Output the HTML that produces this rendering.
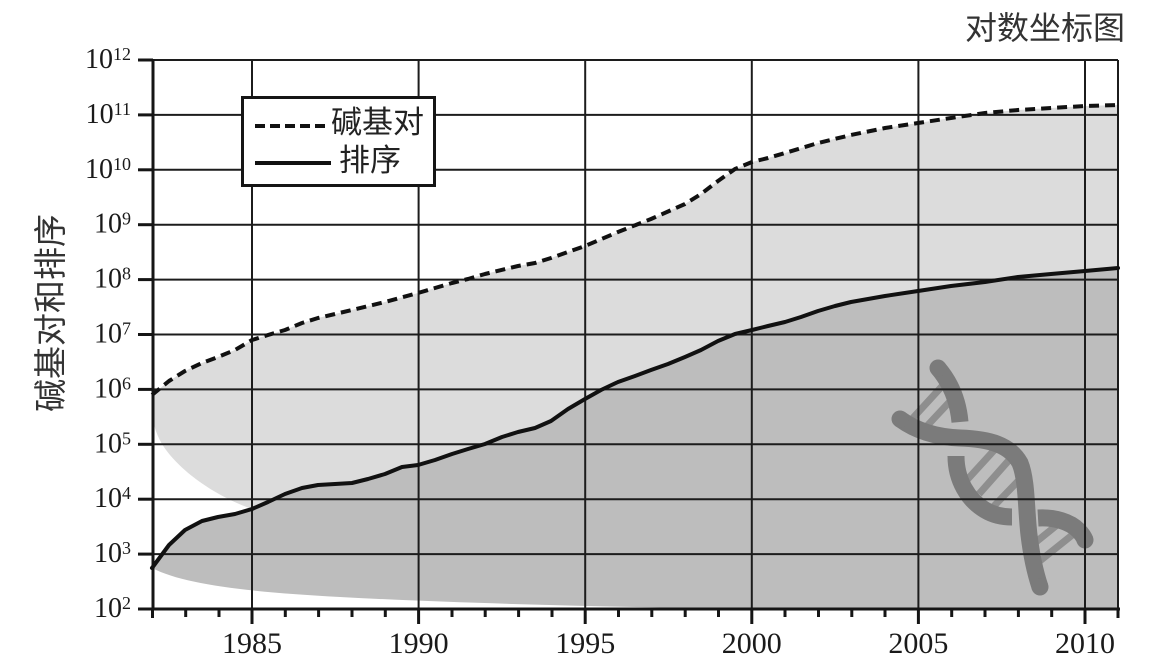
<!DOCTYPE html>
<html>
<head>
<meta charset="utf-8">
<style>
html,body{margin:0;padding:0;background:#fff;}
svg{display:block;}
</style>
</head>
<body>
<svg width="1156" height="664" viewBox="0 0 1156 664" xmlns="http://www.w3.org/2000/svg">
<rect x="0" y="0" width="1156" height="664" fill="#ffffff"/>

<!-- light region -->
<path fill="#dcdcdc" d="M152,395 L169,381 L185,371 L202,363 L218,357 L235,350 L252,340 L268,335 L285,330 L302,323 L318,318 L352,310 L385,302 L418,293 L435,288 L452,283 L468,279 L485,274 L518,266 L535,263 L551,258 L585,246 L618,232 L651,219 L685,204 L701,194 L718,181 L735,169 L752,162 L768,158 L785,153 L818,143 L851,135 L885,128 L918,123 L951,118 L985,113 L1018,110 L1051,108 L1085,106 L1118,105 L1118,268 L1085,271 L1051,274 L1018,277 L985,282 L951,286 L918,291 L885,296 L851,302 L835,306 L818,311 L801,317 L785,322 L768,326 L752,330 L735,334 L718,341 L701,350 L685,357 L668,364 L651,370 L635,376 L618,382 L601,390 L585,399 L568,409 L551,421 L535,428 L518,432 L502,437 L485,444 L468,449 L452,454 L435,460 L418,465 L402,467 L385,474 L368,479 L352,483 L335,484 L318,485 L302,488 L285,494 L268,502 L252,509 C215,496 178,470 162,444 C155,432 152,420 152,408 Z"/>

<!-- dark region -->
<path fill="#bdbdbd" d="M152,568 L169,545 L185,530 L202,521 L218,517 L235,514 L252,509 L268,502 L285,494 L302,488 L318,485 L335,484 L352,483 L368,479 L385,474 L402,467 L418,465 L435,460 L452,454 L468,449 L485,444 L502,437 L518,432 L535,428 L551,421 L568,409 L585,399 L601,390 L618,382 L635,376 L651,370 L668,364 L685,357 L701,350 L718,341 L735,334 L752,330 L768,326 L785,322 L801,317 L818,311 L835,306 L851,302 L885,296 L918,291 L951,286 L985,282 L1018,277 L1051,274 L1085,271 L1118,268 L1118,609 L752,609 C620,607 470,604 340,597 C250,592 185,585 152,568 Z"/>

<!-- DNA -->
<g fill="none" stroke-linecap="butt">
  <g stroke="#8e8e8e" stroke-width="7">
    <line x1="912" y1="419" x2="945" y2="383"/>
    <line x1="926" y1="427" x2="955" y2="396"/>
    <line x1="966" y1="481" x2="998" y2="446"/>
    <line x1="979" y1="494" x2="1010" y2="459"/>
    <line x1="994" y1="506" x2="1021" y2="478"/>
    <line x1="1031" y1="546" x2="1062" y2="521"/>
    <line x1="1036" y1="564" x2="1076" y2="532"/>
  </g>
  <g stroke="#7b7b7b" stroke-width="17">
    <path d="M938,368 C950,382 958,400 960,422"/>
    <path d="M900,419 C915,430 935,437 960,438 C990,439 1010,445 1020,463 C1027,480 1026,510 1029,535 C1032,560 1036,575 1040,587"/>
    <path d="M956,456 C956,480 968,500 985,510 C995,516 1005,517 1012,517"/>
    <path d="M1038,518 C1055,517 1070,522 1078,530 C1082,534 1084,537 1085,540"/>
  </g>
  <g fill="#7b7b7b" stroke="none">
    <circle cx="938" cy="368" r="8.5"/>
    <circle cx="900" cy="419" r="8.5"/>
    <circle cx="1040" cy="587" r="8.5"/>
    <circle cx="1085" cy="540" r="8.5"/>
  </g>
</g>

<!-- gridlines -->
<g stroke="#1c1c1c" stroke-width="2" fill="none">
  <line x1="152" y1="60" x2="1118" y2="60"/>
  <line x1="152" y1="114.9" x2="1118" y2="114.9"/>
  <line x1="152" y1="169.8" x2="1118" y2="169.8"/>
  <line x1="152" y1="224.7" x2="1118" y2="224.7"/>
  <line x1="152" y1="279.6" x2="1118" y2="279.6"/>
  <line x1="152" y1="334.5" x2="1118" y2="334.5"/>
  <line x1="152" y1="389.4" x2="1118" y2="389.4"/>
  <line x1="152" y1="444.3" x2="1118" y2="444.3"/>
  <line x1="152" y1="499.2" x2="1118" y2="499.2"/>
  <line x1="152" y1="554.1" x2="1118" y2="554.1"/>
  <line x1="252" y1="60" x2="252" y2="609"/>
  <line x1="418.6" y1="60" x2="418.6" y2="609"/>
  <line x1="585.2" y1="60" x2="585.2" y2="609"/>
  <line x1="751.8" y1="60" x2="751.8" y2="609"/>
  <line x1="918.4" y1="60" x2="918.4" y2="609"/>
  <line x1="1085" y1="60" x2="1085" y2="609"/>
  <line x1="1118" y1="60" x2="1118" y2="609"/>
</g>

<!-- axes -->
<g stroke="#151515" stroke-width="3" fill="none">
  <line x1="153" y1="59" x2="153" y2="610"/>
  <line x1="152" y1="609" x2="1120" y2="609"/>
  <!-- y ticks -->
  <line x1="138" y1="60" x2="153" y2="60"/>
  <line x1="138" y1="114.9" x2="153" y2="114.9"/>
  <line x1="138" y1="169.8" x2="153" y2="169.8"/>
  <line x1="138" y1="224.7" x2="153" y2="224.7"/>
  <line x1="138" y1="279.6" x2="153" y2="279.6"/>
  <line x1="138" y1="334.5" x2="153" y2="334.5"/>
  <line x1="138" y1="389.4" x2="153" y2="389.4"/>
  <line x1="138" y1="444.3" x2="153" y2="444.3"/>
  <line x1="138" y1="499.2" x2="153" y2="499.2"/>
  <line x1="138" y1="554.1" x2="153" y2="554.1"/>
  <line x1="138" y1="609" x2="153" y2="609"/>
  <!-- x minor ticks -->
  <line x1="152.5" y1="609" x2="152.5" y2="618"/>
  <line x1="185.7" y1="609" x2="185.7" y2="617"/>
  <line x1="219" y1="609" x2="219" y2="617"/>
  <line x1="285.3" y1="609" x2="285.3" y2="617"/>
  <line x1="318.6" y1="609" x2="318.6" y2="617"/>
  <line x1="352" y1="609" x2="352" y2="617"/>
  <line x1="385.3" y1="609" x2="385.3" y2="617"/>
  <line x1="452" y1="609" x2="452" y2="617"/>
  <line x1="485.2" y1="609" x2="485.2" y2="617"/>
  <line x1="518.6" y1="609" x2="518.6" y2="617"/>
  <line x1="552" y1="609" x2="552" y2="617"/>
  <line x1="618.5" y1="609" x2="618.5" y2="617"/>
  <line x1="651.8" y1="609" x2="651.8" y2="617"/>
  <line x1="685.2" y1="609" x2="685.2" y2="617"/>
  <line x1="718.5" y1="609" x2="718.5" y2="617"/>
  <line x1="785" y1="609" x2="785" y2="617"/>
  <line x1="818.5" y1="609" x2="818.5" y2="617"/>
  <line x1="851.8" y1="609" x2="851.8" y2="617"/>
  <line x1="885" y1="609" x2="885" y2="617"/>
  <line x1="951.7" y1="609" x2="951.7" y2="617"/>
  <line x1="985" y1="609" x2="985" y2="617"/>
  <line x1="1018.4" y1="609" x2="1018.4" y2="617"/>
  <line x1="1051.7" y1="609" x2="1051.7" y2="617"/>
  <line x1="1118" y1="609" x2="1118" y2="618"/>
  <!-- x major ticks -->
  <line x1="252" y1="609" x2="252" y2="624"/>
  <line x1="418.6" y1="609" x2="418.6" y2="624"/>
  <line x1="585.2" y1="609" x2="585.2" y2="624"/>
  <line x1="751.8" y1="609" x2="751.8" y2="624"/>
  <line x1="918.4" y1="609" x2="918.4" y2="624"/>
  <line x1="1085" y1="609" x2="1085" y2="624"/>
</g>

<!-- series lines -->
<polyline fill="none" stroke="#111" stroke-width="4" stroke-linejoin="round" stroke-dasharray="10 6" points="152,395 169,381 185,371 202,363 218,357 235,350 252,340 268,335 285,330 302,323 318,318 352,310 385,302 418,293 435,288 452,283 468,279 485,274 518,266 535,263 551,258 585,246 618,232 651,219 685,204 701,194 718,181 735,169 752,162 768,158 785,153 818,143 851,135 885,128 918,123 951,118 985,113 1018,110 1051,108 1085,106 1118,105"/>
<polyline fill="none" stroke="#111" stroke-width="4" stroke-linejoin="round" stroke-linecap="round" points="152,568 169,545 185,530 202,521 218,517 235,514 252,509 268,502 285,494 302,488 318,485 335,484 352,483 368,479 385,474 402,467 418,465 435,460 452,454 468,449 485,444 502,437 518,432 535,428 551,421 568,409 585,399 601,390 618,382 635,376 651,370 668,364 685,357 701,350 718,341 735,334 752,330 768,326 785,322 801,317 818,311 835,306 851,302 885,296 918,291 951,286 985,282 1018,277 1051,274 1085,271 1118,268"/>

<!-- legend -->
<rect x="242.5" y="97.5" width="192" height="88" fill="#ffffff" stroke="#151515" stroke-width="3"/>
<line x1="255" y1="126" x2="327" y2="126" stroke="#111" stroke-width="4" stroke-dasharray="10 5"/>
<line x1="255" y1="163" x2="331" y2="163" stroke="#111" stroke-width="4"/>
<g font-family="'Liberation Sans','Noto Sans CJK SC',sans-serif" font-size="31" fill="#222">
  <text x="331" y="133">碱基对</text>
  <text x="339" y="171">排序</text>
</g>

<!-- y tick labels -->
<g font-family="'Liberation Serif',serif" font-size="28" fill="#1a1a1a" text-anchor="end">
  <text x="131" y="68">10<tspan font-size="18" dy="-8">12</tspan></text>
  <text x="131" y="122.9">10<tspan font-size="18" dy="-8">11</tspan></text>
  <text x="131" y="177.8">10<tspan font-size="18" dy="-8">10</tspan></text>
  <text x="131" y="232.7">10<tspan font-size="18" dy="-8">9</tspan></text>
  <text x="131" y="287.6">10<tspan font-size="18" dy="-8">8</tspan></text>
  <text x="131" y="342.5">10<tspan font-size="18" dy="-8">7</tspan></text>
  <text x="131" y="397.4">10<tspan font-size="18" dy="-8">6</tspan></text>
  <text x="131" y="452.3">10<tspan font-size="18" dy="-8">5</tspan></text>
  <text x="131" y="507.2">10<tspan font-size="18" dy="-8">4</tspan></text>
  <text x="131" y="562.1">10<tspan font-size="18" dy="-8">3</tspan></text>
  <text x="131" y="617">10<tspan font-size="18" dy="-8">2</tspan></text>
</g>

<!-- x tick labels -->
<g font-family="'Liberation Serif',serif" font-size="30" fill="#1a1a1a" text-anchor="middle">
  <text x="252" y="653">1985</text>
  <text x="418.6" y="653">1990</text>
  <text x="585.2" y="653">1995</text>
  <text x="751.8" y="653">2000</text>
  <text x="918.4" y="653">2005</text>
  <text x="1085" y="653">2010</text>
</g>

<!-- title -->
<text x="1125" y="39" text-anchor="end" font-family="'Liberation Sans','Noto Sans CJK SC',sans-serif" font-size="32" fill="#333">对数坐标图</text>

<!-- y axis label -->
<text x="0" y="0" transform="translate(62,313) rotate(-90)" text-anchor="middle" font-family="'Liberation Sans','Noto Sans CJK SC',sans-serif" font-size="33" fill="#333">碱基对和排序</text>
</svg>
</body>
</html>
